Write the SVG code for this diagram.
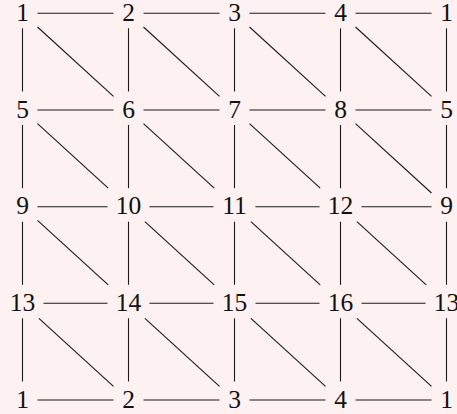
<svg xmlns="http://www.w3.org/2000/svg" width="457" height="414" viewBox="0 0 457 414">
<style>
.bg{fill:#fdf1f1}
.n text{font-family:"Liberation Serif","DejaVu Serif",serif;font-size:25.5px;fill:#111;text-anchor:middle}
.e line{stroke:#1a1a1a;stroke-width:1.1}
</style>
<rect class="bg" x="0" y="0" width="457" height="414"/>
<g id="connectors" class="e">
<line x1="37.5" y1="13.3" x2="113.5" y2="13.3"/>
<line x1="143.5" y1="13.3" x2="219.5" y2="13.3"/>
<line x1="249.5" y1="13.3" x2="325.5" y2="13.3"/>
<line x1="355.5" y1="13.3" x2="431.5" y2="13.3"/>
<line x1="37.5" y1="110" x2="113.5" y2="110"/>
<line x1="143.5" y1="110" x2="219.5" y2="110"/>
<line x1="249.5" y1="110" x2="325.5" y2="110"/>
<line x1="355.5" y1="110" x2="431.5" y2="110"/>
<line x1="37.5" y1="206.7" x2="107.5" y2="206.7"/>
<line x1="149.5" y1="206.7" x2="213.5" y2="206.7"/>
<line x1="255.5" y1="206.7" x2="319.5" y2="206.7"/>
<line x1="361.5" y1="206.7" x2="431.5" y2="206.7"/>
<line x1="43.5" y1="303.3" x2="107.5" y2="303.3"/>
<line x1="149.5" y1="303.3" x2="213.5" y2="303.3"/>
<line x1="255.5" y1="303.3" x2="319.5" y2="303.3"/>
<line x1="361.5" y1="303.3" x2="425.5" y2="303.3"/>
<line x1="37.5" y1="400" x2="113.5" y2="400"/>
<line x1="143.5" y1="400" x2="219.5" y2="400"/>
<line x1="249.5" y1="400" x2="325.5" y2="400"/>
<line x1="355.5" y1="400" x2="431.5" y2="400"/>
<line x1="22.5" y1="28.3" x2="22.5" y2="91.5"/>
<line x1="128.5" y1="28.3" x2="128.5" y2="91.5"/>
<line x1="234.5" y1="28.3" x2="234.5" y2="91.5"/>
<line x1="340.5" y1="28.3" x2="340.5" y2="91.5"/>
<line x1="446.5" y1="28.3" x2="446.5" y2="91.5"/>
<line x1="22.5" y1="125" x2="22.5" y2="188.2"/>
<line x1="128.5" y1="125" x2="128.5" y2="188.2"/>
<line x1="234.5" y1="125" x2="234.5" y2="188.2"/>
<line x1="340.5" y1="125" x2="340.5" y2="188.2"/>
<line x1="446.5" y1="125" x2="446.5" y2="188.2"/>
<line x1="22.5" y1="221.7" x2="22.5" y2="284.8"/>
<line x1="128.5" y1="221.7" x2="128.5" y2="284.8"/>
<line x1="234.5" y1="221.7" x2="234.5" y2="284.8"/>
<line x1="340.5" y1="221.7" x2="340.5" y2="284.8"/>
<line x1="446.5" y1="221.7" x2="446.5" y2="284.8"/>
<line x1="22.5" y1="318.3" x2="22.5" y2="381.5"/>
<line x1="128.5" y1="318.3" x2="128.5" y2="381.5"/>
<line x1="234.5" y1="318.3" x2="234.5" y2="381.5"/>
<line x1="340.5" y1="318.3" x2="340.5" y2="381.5"/>
<line x1="446.5" y1="318.3" x2="446.5" y2="381.5"/>
<line x1="37.5" y1="27" x2="113.5" y2="96.3"/>
<line x1="143.5" y1="27" x2="219.5" y2="96.3"/>
<line x1="249.5" y1="27" x2="325.5" y2="96.3"/>
<line x1="355.5" y1="27" x2="431.5" y2="96.3"/>
<line x1="37.5" y1="123.7" x2="108.2" y2="188.2"/>
<line x1="143.5" y1="123.7" x2="214.2" y2="188.2"/>
<line x1="249.5" y1="123.7" x2="320.2" y2="188.2"/>
<line x1="355.5" y1="123.7" x2="431.5" y2="193"/>
<line x1="37.5" y1="220.4" x2="108.2" y2="284.8"/>
<line x1="144.9" y1="221.7" x2="214.2" y2="284.8"/>
<line x1="250.9" y1="221.7" x2="320.2" y2="284.8"/>
<line x1="356.9" y1="221.7" x2="426.2" y2="284.8"/>
<line x1="38.9" y1="318.3" x2="113.5" y2="386.3"/>
<line x1="144.9" y1="318.3" x2="219.5" y2="386.3"/>
<line x1="250.9" y1="318.3" x2="325.5" y2="386.3"/>
<line x1="356.9" y1="318.3" x2="431.5" y2="386.3"/>
</g>
<g class="n">
<g id="n0_0"><text x="22.5" y="20.8">1</text></g>
<g id="n0_1"><text x="128.5" y="20.8">2</text></g>
<g id="n0_2"><text x="234.5" y="20.8">3</text></g>
<g id="n0_3"><text x="340.5" y="20.8">4</text></g>
<g id="n0_4"><text x="446.5" y="20.8">1</text></g>
<g id="n1_0"><text x="22.5" y="117.5">5</text></g>
<g id="n1_1"><text x="128.5" y="117.5">6</text></g>
<g id="n1_2"><text x="234.5" y="117.5">7</text></g>
<g id="n1_3"><text x="340.5" y="117.5">8</text></g>
<g id="n1_4"><text x="446.5" y="117.5">5</text></g>
<g id="n2_0"><text x="22.5" y="214.2">9</text></g>
<g id="n2_1"><text x="128.5" y="214.2">10</text></g>
<g id="n2_2"><text x="234.5" y="214.2">11</text></g>
<g id="n2_3"><text x="340.5" y="214.2">12</text></g>
<g id="n2_4"><text x="446.5" y="214.2">9</text></g>
<g id="n3_0"><text x="22.5" y="310.8">13</text></g>
<g id="n3_1"><text x="128.5" y="310.8">14</text></g>
<g id="n3_2"><text x="234.5" y="310.8">15</text></g>
<g id="n3_3"><text x="340.5" y="310.8">16</text></g>
<g id="n3_4"><text x="446.5" y="310.8">13</text></g>
<g id="n4_0"><text x="22.5" y="407.5">1</text></g>
<g id="n4_1"><text x="128.5" y="407.5">2</text></g>
<g id="n4_2"><text x="234.5" y="407.5">3</text></g>
<g id="n4_3"><text x="340.5" y="407.5">4</text></g>
<g id="n4_4"><text x="446.5" y="407.5">1</text></g>
</g>
</svg>
